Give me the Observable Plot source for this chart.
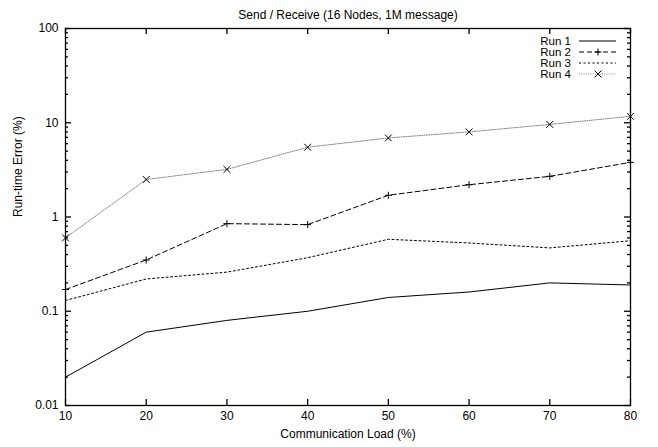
<!DOCTYPE html>
<html><head><meta charset="utf-8">
<script src="https://cdn.jsdelivr.net/npm/d3@7"></script>
<script src="https://cdn.jsdelivr.net/npm/@observablehq/plot@0.6"></script>
<style>
html,body{margin:0;padding:0;background:#fff;}
svg{font-family:"Liberation Sans",Arial,sans-serif;}
</style></head><body>
<div id="chart"></div>
<script>
const title = "Send / Receive (16 Nodes, 1M message)";
const xLabel = "Communication Load (%)";
const yLabel = "Run-time Error (%)";
const loads = [10, 20, 30, 40, 50, 60, 70, 80];
const run1 = [0.02, 0.06, 0.08, 0.10, 0.14, 0.16, 0.20, 0.19];
const run2 = [0.17, 0.35, 0.85, 0.83, 1.7, 2.2, 2.7, 3.8];
const run3 = [0.13, 0.22, 0.26, 0.37, 0.58, 0.53, 0.47, 0.56];
const run4 = [0.6, 2.5, 3.2, 5.5, 6.9, 8.0, 9.6, 11.7];
const seriesNames = ["Run 1", "Run 2", "Run 3", "Run 4"];
const xTicks = [10, 20, 30, 40, 50, 60, 70, 80];
const yTicks = [0.01, 0.1, 1, 10, 100];

const W = 658, H = 447, mT = 28, mB = 42, mL = 65, mR = 28;
const fw = W - mL - mR, fh = H - mT - mB;

const styles = {
  "Run 1": {stroke: "#000", dash: null, symbol: null, r: 0},
  "Run 2": {stroke: "#000", dash: "5,3", symbol: "plus", r: 2.4},
  "Run 3": {stroke: "#000", dash: "2,2.5", symbol: null, r: 0},
  "Run 4": {stroke: "#808080", dash: "1,1.3", symbol: "times", r: 3.2}
};
const allRuns = [run1, run2, run3, run4];
const data = allRuns.map((vals, i) => vals.map((v, j) => ({series: seriesNames[i], x: loads[j], y: v})));
const minorTicks = [];
for (let k = -2; k < 2; k++) for (let m = 2; m <= 9; m++) minorTicks.push(m * Math.pow(10, k));

const tk = {stroke: "#000", strokeWidth: 1.3};
const marks = [
  Plot.frame({stroke: "#000", strokeWidth: 1.3}),
  // inward ticks on all four sides
  Plot.tickX(xTicks, {x: d => d, insetTop: fh - 6, ...tk}),
  Plot.tickX(xTicks, {x: d => d, insetBottom: fh - 6, ...tk}),
  Plot.tickY(yTicks, {y: d => d, insetRight: fw - 6, ...tk}),
  Plot.tickY(yTicks, {y: d => d, insetLeft: fw - 6, ...tk}),
  Plot.tickY(minorTicks, {y: d => d, insetRight: fw - 3, ...tk}),
  Plot.tickY(minorTicks, {y: d => d, insetLeft: fw - 3, ...tk}),
  Plot.axisX({ticks: xTicks, tickSize: 0, tickPadding: 6, label: null, fontSize: 12}),
  Plot.axisY({ticks: yTicks, tickSize: 0, tickPadding: 7, tickFormat: d => String(d), label: null, fontSize: 12}),
  Plot.text([title], {frameAnchor: "top", dy: -18, fontSize: 12}),
  Plot.text([xLabel], {frameAnchor: "bottom", dy: 32, fontSize: 12}),
  Plot.text([yLabel], {frameAnchor: "left", dx: -47, rotate: -90, fontSize: 12})
];
data.forEach(d => {
  const s = styles[d[0].series];
  marks.push(Plot.line(d, {x: "x", y: "y", stroke: s.stroke, strokeWidth: 1, strokeDasharray: s.dash}));
  if (s.symbol) marks.push(Plot.dot(d, {x: "x", y: "y", symbol: s.symbol, r: s.r, stroke: "#000", strokeWidth: 1}));
});

const chart = Plot.plot({
  width: W, height: H,
  marginTop: mT, marginBottom: mB, marginLeft: mL, marginRight: mR,
  style: {fontFamily: '"Liberation Sans", Arial, sans-serif', fontSize: "12px", background: "#fff", color: "#000"},
  x: {domain: [10, 80]},
  y: {type: "log", domain: [0.01, 100]},
  marks
});
document.getElementById("chart").appendChild(chart);

// Legend (top right inside frame)
const svg = d3.select(chart);
const lg = svg.append("g").attr("font-size", 11.5).attr("font-family", '"Liberation Sans", Arial, sans-serif');
seriesNames.forEach((name, i) => {
  const s = styles[name];
  const yy = 41 + i * 11;
  lg.append("text").attr("x", 571).attr("y", yy).attr("dy", "0.35em").attr("text-anchor", "end").text(name);
  lg.append("line").attr("x1", 579).attr("x2", 616).attr("y1", yy).attr("y2", yy)
    .attr("stroke", s.stroke).attr("stroke-width", 1).attr("stroke-dasharray", s.dash);
  if (s.symbol) {
    const sym = s.symbol === "plus" ? d3.symbolPlus : d3.symbolTimes;
    lg.append("path").attr("d", d3.symbol(sym, Math.PI * s.r * s.r)()).attr("transform", `translate(598,${yy})`)
      .attr("fill", "none").attr("stroke", "#000").attr("stroke-width", 1);
  }
});
</script>
</body></html>
